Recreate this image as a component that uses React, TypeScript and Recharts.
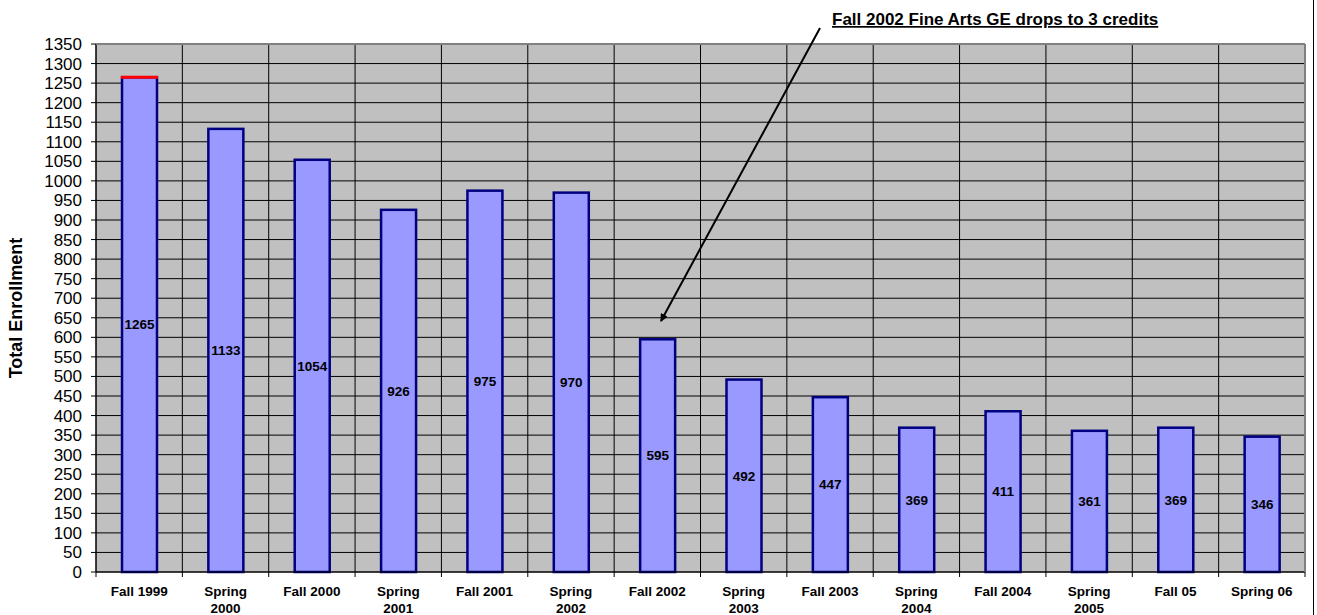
import React from "react";
import {
  BarChart,
  Bar,
  XAxis,
  YAxis,
  CartesianGrid,
  LabelList,
} from "recharts";

const terms = [
  "Fall 1999",
  "Spring 2000",
  "Fall 2000",
  "Spring 2001",
  "Fall 2001",
  "Spring 2002",
  "Fall 2002",
  "Spring 2003",
  "Fall 2003",
  "Spring 2004",
  "Fall 2004",
  "Spring 2005",
  "Fall 05",
  "Spring 06",
];
const enrollment = [1265, 1133, 1054, 926, 975, 970, 595, 492, 447, 369, 411, 361, 369, 346];
const highlighted = ["Fall 1999"];
const yTicks = [
  0, 50, 100, 150, 200, 250, 300, 350, 400, 450, 500, 550, 600, 650, 700, 750, 800, 850,
  900, 950, 1000, 1050, 1100, 1150, 1200, 1250, 1300, 1350,
];
const note = "Fall 2002 Fine Arts GE drops to 3 credits";

const data = terms.map((t, i) => ({ term: t, value: enrollment[i] }));

const W = 1317;
const H = 615;
const MARGIN = { top: 44, right: 12, bottom: 0, left: 0 };
const YAXIS_W = 96;
const XAXIS_H = 43;
const PLOT_LEFT = MARGIN.left + YAXIS_W;
const PLOT_RIGHT = W - MARGIN.right;
const PLOT_TOP = MARGIN.top;
const PLOT_BOTTOM = H - MARGIN.bottom - XAXIS_H;
const BAND = (PLOT_RIGHT - PLOT_LEFT) / terms.length;

const FONT = "Arial, 'Liberation Sans', sans-serif";

function XTick(props: any) {
  const { x, y, payload, index } = props;
  const label: string = payload.value;
  const lines = label.length > 9 ? label.split(" ") : [label];
  const isLast = index === terms.length - 1;
  return (
    <g>
      <line x1={x - BAND / 2} x2={x - BAND / 2} y1={y} y2={y + 5} stroke="#000" />
      {isLast && <line x1={x + BAND / 2} x2={x + BAND / 2} y1={y} y2={y + 5} stroke="#000" />}
      <text
        x={x}
        y={y + 24}
        textAnchor="middle"
        fontFamily={FONT}
        fontWeight="bold"
        fontSize={13.5}
        fill="#000"
      >
        {lines.map((l, i) => (
          <tspan key={i} x={x} dy={i === 0 ? 0 : 16.5}>
            {l}
          </tspan>
        ))}
      </text>
    </g>
  );
}

function EnrollBar(props: any) {
  const { x, y, width, height, payload } = props;
  const mark = highlighted.includes(payload.term);
  return (
    <g>
      <rect x={x} y={y} width={width} height={height} fill="#9999FF" stroke="#000080" strokeWidth={2.5} />
      {mark && <line x1={x - 1} x2={x + width + 1} y1={y} y2={y} stroke="#FF0000" strokeWidth={3} />}
    </g>
  );
}

export default function App() {
  return (
    <div style={{ position: "relative", width: W, height: H, background: "#fff" }}>
      <style>{`body{margin:0}`}</style>
      <BarChart width={W} height={H} data={data} margin={MARGIN} barSize={35}>
        <CartesianGrid
          stroke="#000"
          fill="#C0C0C0"
          fillOpacity={1}
          verticalCoordinatesGenerator={() =>
            terms.map((_, i) => PLOT_LEFT + i * BAND).concat([PLOT_RIGHT])
          }
        />
        <XAxis
          dataKey="term"
          height={XAXIS_H}
          interval={0}
          tickLine={false}
          tickSize={0}
          tickMargin={0}
          axisLine={{ stroke: "#000" }}
          tick={<XTick />}
        />
        <YAxis
          width={YAXIS_W}
          domain={[0, 1350]}
          ticks={yTicks}
          interval={0}
          tickSize={5}
          tickMargin={9}
          tickLine={{ stroke: "#000" }}
          axisLine={{ stroke: "#000" }}
          tick={{ fill: "#000", fontSize: 17, fontFamily: FONT }}
          label={{
            value: "Total Enrollment",
            angle: -90,
            position: "insideLeft",
            offset: 16,
            style: {
              textAnchor: "middle",
              fontFamily: FONT,
              fontWeight: "bold",
              fontSize: 18,
              fill: "#000",
            },
          }}
        />
        <Bar dataKey="value" isAnimationActive={false} shape={<EnrollBar />}>
          <LabelList
            dataKey="value"
            position="center"
            style={{ fontFamily: FONT, fontWeight: "bold", fontSize: 13.5, fill: "#000" }}
          />
        </Bar>
      </BarChart>
      <svg
        width={W}
        height={H}
        style={{ position: "absolute", left: 0, top: 0, pointerEvents: "none" }}
      >
        <defs>
          <marker id="arrowHead" markerWidth="8" markerHeight="8" refX="7" refY="4" orient="auto" markerUnits="userSpaceOnUse">
            <path d="M0,0 L8,4 L0,8 z" fill="#000" />
          </marker>
        </defs>
        <line x1={PLOT_LEFT} x2={PLOT_RIGHT} y1={PLOT_TOP + 0.5} y2={PLOT_TOP + 0.5} stroke="#808080" />
        <line x1={PLOT_RIGHT - 0.5} x2={PLOT_RIGHT - 0.5} y1={PLOT_TOP} y2={PLOT_BOTTOM} stroke="#808080" />
        <line x1={1313.5} x2={1313.5} y1={0} y2={H} stroke="#000" />
        <line x1={820} y1={28} x2={661} y2={321} stroke="#000" strokeWidth={2} markerEnd="url(#arrowHead)" />
        <text
          x={832}
          y={25}
          fontFamily={FONT}
          fontWeight="bold"
          fontSize={17}
          textDecoration="underline"
          fill="#000"
        >
          {note}
        </text>
      </svg>
    </div>
  );
}
